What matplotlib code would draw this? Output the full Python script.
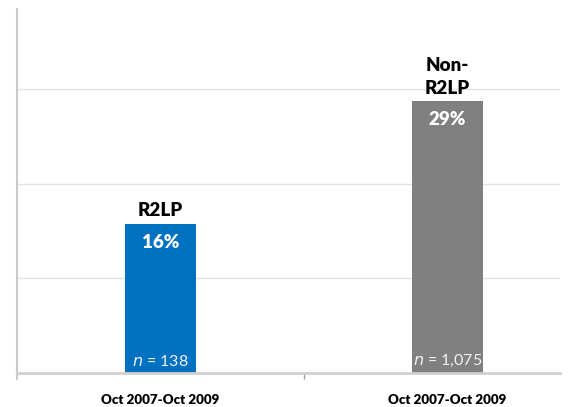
import numpy as np
import matplotlib.pyplot as plt

plt.rcParams['font.family'] = ['Lato', 'DejaVu Sans']

periods = ["Oct 2007-Oct 2009", "Oct 2007-Oct 2009"]
groups = ["R2LP", "Non-\nR2LP"]
rates = [0.158, 0.288]
pct_labels = ["16%", "29%"]
n_labels = ["138", "1,075"]
colors = ["#0070C0", "#808080"]

fig = plt.figure(figsize=(5.71, 4.07), dpi=100)
ax = fig.add_axes([17/571, 34/407, 543/571, 364/407])

x = np.arange(len(rates))
ax.bar(x, rates, width=0.244, color=colors, zorder=2)

ax.set_xlim(-0.5, 1.392)
ax.set_ylim(0, 0.385)
ax.set_yticks([0.1, 0.2, 0.3])
ax.set_yticklabels([])
ax.tick_params(axis='y', length=0)
ax.grid(axis='y', color='#e2e2e2', linewidth=1, zorder=0)

ax.set_xticks(x)
ax.set_xticklabels(periods, fontsize=9.6, fontweight='heavy')
ax.tick_params(axis='x', length=0, pad=15)
ax.set_xticks([0.5], minor=True)
ax.tick_params(axis='x', which='minor', length=4, color='#a0a0a0', width=1)

for s in ['top', 'right']:
    ax.spines[s].set_visible(False)
ax.spines['left'].set_color('#cacaca')
ax.spines['left'].set_linewidth(1.5)
ax.spines['bottom'].set_color('#d0d0d0')
ax.spines['bottom'].set_linewidth(2)
ax.plot([-0.5, -0.5], [0, -0.006], color='#cacaca', lw=1.5, clip_on=False)

for xi, v, g, p, n in zip(x, rates, groups, pct_labels, n_labels):
    ax.annotate(g, (xi, v), xytext=(0, 3), textcoords='offset points',
                ha='center', va='bottom', fontsize=13.5, fontweight='heavy',
                color='black', linespacing=1.4)
    ax.annotate(p, (xi, v), xytext=(0, -7.5), textcoords='offset points',
                ha='center', va='top', fontsize=13.5, fontweight='heavy',
                color='white')
    ax.annotate(r"$\it{n}$ = " + n, (xi, 0), xytext=(0, 3), textcoords='offset points',
                ha='center', va='bottom', fontsize=11.5, color='#f2f2f2')

fig.savefig("out.png", dpi=100)
